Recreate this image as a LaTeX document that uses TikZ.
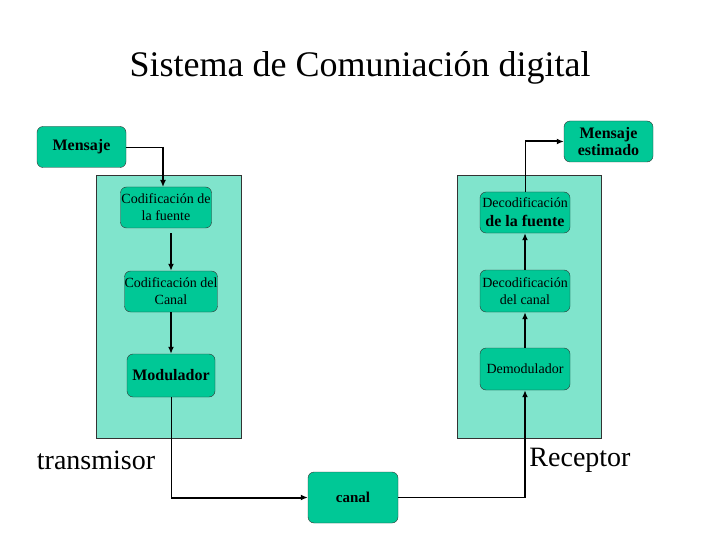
\documentclass[tikz,border=0pt]{standalone}
\usepackage{fontspec}
\setmainfont{Liberation Serif}
\usetikzlibrary{arrows.meta}
\definecolor{panelcol}{RGB}{128,228,204}
\definecolor{boxcol}{RGB}{0,200,150}
\tikzset{
  bloque/.style={draw=black!80, fill=boxcol, rounded corners=6pt, align=center,
    inner sep=0pt, minimum width=89pt, minimum height=41pt,
    font=\fontsize{14}{17}\selectfont},
  panel/.style={draw=black!80, fill=panelcol},
  flecha/.style={line width=2pt, -{Latex[length=7pt,width=6pt]}},
  linea/.style={line width=0.8pt},
}
\newcommand{\grande}{\fontsize{16}{21}\selectfont\bfseries}
\begin{document}
\begin{tikzpicture}[x=1pt,y=-1pt]
\useasboundingbox (0,0) rectangle (720,540);
\node (titulo) at (360,68) {\fontsize{36}{40}\selectfont Sistema de Comuniación digital};
\draw[panel] (96,175) rectangle (241,438);
\draw[panel] (457,175) rectangle (601,438);

\node[bloque] (mensaje) at (81.5,147) {\grande Mensaje};
\node[bloque, minimum width=91pt] (codf) at (166,207.5) {Codificación de\\la fuente};
\node[bloque, minimum width=88pt] (codc) at (171,291.5) {Codificación del\\Canal};
\node[bloque, minimum width=88pt, minimum height=43pt] (modu) at (171,375.5) {\grande Modulador};
\node[bloque, minimum width=90pt, minimum height=51pt] (canal) at (353,497.5) {\fontsize{15}{17}\selectfont\bfseries canal};
\node[bloque, minimum width=90pt, minimum height=42pt] (demod) at (525,369) {Demodulador};
\node[bloque, minimum width=90pt, minimum height=42pt] (decc) at (525,291) {Decodificación\\del canal};
\node[bloque, minimum width=90pt] (decf) at (525,212.5) {Decodificación\\[2pt]{\grande de la fuente}};
\node[bloque] (mest) at (608.5,141.5) {\grande Mensaje\\\grande estimado};

\node (trans) at (96,460) {\fontsize{28}{30}\selectfont transmisor};
\node (recep) at (580,460) {\fontsize{28}{30}\selectfont Receptor};

% transmisor
\coordinate (entra) at (163,187);
\draw[linea] (mensaje.east) -- (mensaje.east -| entra);
\draw[flecha] (mensaje.east -| entra) -- (entra);
\draw[flecha, shorten <=5pt] (codc.north |- codf.south) -- (codc.north);
\draw[flecha] (codc.south) -- (modu.north);
\draw[linea] (modu.south) -- (modu.south |- canal.west);
\draw[flecha] (modu.south |- canal.west) -- (canal.west);

% receptor
\draw[linea] (canal.east) -- (demod.south |- canal.east);
\draw[flecha] (demod.south |- canal.east) -- (demod.south);
\draw[flecha] (demod.north) -- (decc.south);
\draw[flecha] (decc.north) -- (decf.south);
\draw[linea] (decf.north) -- (decf.north |- mest.west);
\draw[flecha] (decf.north |- mest.west) -- (mest.west);
\end{tikzpicture}
\end{document}
